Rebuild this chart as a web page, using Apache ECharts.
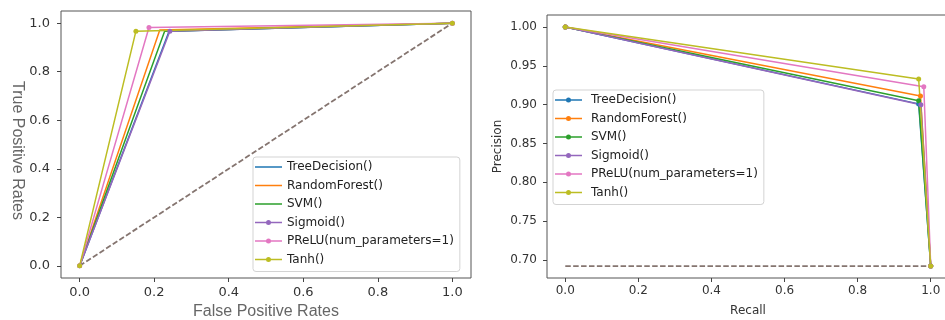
<!DOCTYPE html>
<html>
<head>
<meta charset="utf-8">
<script src="https://cdn.jsdelivr.net/npm/echarts@6/dist/echarts.min.js"></script>
<style>html,body{margin:0;padding:0;background:#fff}#c{width:945px;height:320px}</style>
</head>
<body>
<div id="c"></div>
<script>
const models = ['TreeDecision()', 'RandomForest()', 'SVM()', 'Sigmoid()', 'PReLU(num_parameters=1)', 'Tanh()'];
const colors = ['#1f77b4', '#ff7f0e', '#2ca02c', '#9467bd', '#e377c2', '#bcbd22'];
const rocMarkers = [false, false, false, true, true, true];
// ROC operating point (false positive rate, true positive rate)
const rocFpr = [0.240, 0.215, 0.228, 0.242, 0.186, 0.151];
const rocTpr = [0.967, 0.972, 0.967, 0.967, 0.982, 0.967];
// PR operating point (recall, precision)
const prRecall = [0.967, 0.972, 0.967, 0.973, 0.981, 0.967];
const prPrecision = [0.901, 0.911, 0.905, 0.900, 0.923, 0.933];
const baseline = 0.6923;
const rocTicks = [0.0, 0.2, 0.4, 0.6, 0.8, 1.0];
const recallTicks = [0.0, 0.2, 0.4, 0.6, 0.8, 1.0];
const precisionTicks = [0.70, 0.75, 0.80, 0.85, 0.90, 0.95, 1.00];

const ICON_LINE = 'path://M0,0h0.01v0.01h-0.01zM0,6.25h27v1.5h-27zM26.99,13.99h0.01v0.01h-0.01z';
const ICON_DOT = 'path://M0,0h0.01v0.01h-0.01zM0,6.25h27v1.5h-27zM26.99,13.99h0.01v0.01h-0.01zM16,7a2.5,2.5 0 1,1 -5,0a2.5,2.5 0 1,1 5,0z';

const tickFont = 'DejaVu Sans';
function axisCommon(fontSize, ticks, digits, margin) {
  return {
    axisLine: { show: false, onZero: false },
    axisTick: { show: true, length: 4, lineStyle: { color: '#444', width: 1 }, customValues: ticks },
    axisLabel: { show: true, fontFamily: tickFont, fontSize: fontSize, color: '#333', margin: margin,
      customValues: ticks, formatter: v => Number(v).toFixed(digits) },
    splitLine: { show: false }
  };
}

const series = [];
models.forEach((m, i) => {
  series.push({
    name: m, type: 'line', xAxisIndex: 0, yAxisIndex: 0,
    data: [[0, 0], [rocFpr[i], rocTpr[i]], [1, 1]],
    symbol: rocMarkers[i] ? 'circle' : 'none', symbolSize: 5,
    lineStyle: { color: colors[i], width: 1.5 }, itemStyle: { color: colors[i] },
    emphasis: { disabled: true }
  });
});
series.push({
  name: 'roc-chance', type: 'line', xAxisIndex: 0, yAxisIndex: 0,
  data: [[0, 0], [1, 1]], symbol: 'none', z: 1,
  lineStyle: { color: '#857570', width: 1.8, type: [5.5, 2.4] }, emphasis: { disabled: true }
});
models.forEach((m, i) => {
  series.push({
    name: m, type: 'line', xAxisIndex: 1, yAxisIndex: 1,
    data: [[0, 1], [prRecall[i], prPrecision[i]], [1, baseline]],
    symbol: 'circle', symbolSize: 5,
    lineStyle: { color: colors[i], width: 1.5 }, itemStyle: { color: colors[i] },
    emphasis: { disabled: true }
  });
});
series.push({
  name: 'pr-chance', type: 'line', xAxisIndex: 1, yAxisIndex: 1,
  data: [[0, baseline], [1, baseline]], symbol: 'none', z: 1,
  lineStyle: { color: '#857570', width: 1.8, type: [5.5, 2.4] }, emphasis: { disabled: true }
});

const legendBase = {
  orient: 'vertical', itemWidth: 27, itemHeight: 14, itemGap: 4.5,
  padding: [3, 6, 5, 2], borderColor: '#d3d3d3', borderWidth: 1, borderRadius: 3,
  backgroundColor: 'rgba(255,255,255,0.85)', selectedMode: false,
  itemStyle: { borderWidth: 0 },
  textStyle: { fontFamily: 'DejaVu Sans', fontSize: 12, color: '#222' }
};

const chart = echarts.init(document.getElementById('c'), null, { renderer: 'canvas' });
chart.setOption({
  animation: false,
  backgroundColor: '#fff',
  grid: [
    { left: 61, top: 11, width: 410, height: 267, show: true, borderColor: '#555', borderWidth: 1,
      backgroundColor: 'transparent', containLabel: false, outerBoundsMode: 'none' },
    { left: 547, top: 15, width: 402, height: 263, show: true, borderColor: '#555', borderWidth: 1,
      backgroundColor: 'transparent', containLabel: false, outerBoundsMode: 'none' }
  ],
  xAxis: [
    Object.assign({ type: 'value', gridIndex: 0, min: -0.05, max: 1.05,
      name: 'False Positive Rates', nameLocation: 'middle', nameGap: 20,
      nameTextStyle: { fontFamily: 'Liberation Sans', fontSize: 16, color: '#666' } }, axisCommon(13, rocTicks, 1, 8)),
    Object.assign({ type: 'value', gridIndex: 1, min: -0.05, max: 1.05,
      name: 'Recall', nameLocation: 'middle', nameGap: 27,
      nameTextStyle: { fontFamily: 'DejaVu Sans', fontSize: 12, color: '#333' } }, axisCommon(12, recallTicks, 1, 7))
  ],
  yAxis: [
    Object.assign({ type: 'value', gridIndex: 0, min: -0.05, max: 1.05,
      name: 'True Positive Rates', nameLocation: 'middle', nameGap: 31, nameRotate: -90,
      nameTextStyle: { fontFamily: 'Liberation Sans', fontSize: 16, color: '#666', padding: [0, 0, 0, 12] } }, axisCommon(13, rocTicks, 1, 11)),
    Object.assign({ type: 'value', gridIndex: 1, min: baseline - 0.05 * (1 - baseline), max: 1 + 0.05 * (1 - baseline),
      name: 'Precision', nameLocation: 'middle', nameGap: 43,
      nameTextStyle: { fontFamily: 'DejaVu Sans', fontSize: 12, color: '#333' } }, axisCommon(12, precisionTicks, 2, 10))
  ],
  legend: [
    Object.assign({}, legendBase, { left: 253, top: 157,
      data: models.map((m, i) => ({ name: m, icon: rocMarkers[i] ? ICON_DOT : ICON_LINE })) }),
    Object.assign({}, legendBase, { left: 553, top: 90,
      textStyle: { fontFamily: 'DejaVu Sans', fontSize: 12, color: '#222', padding: [0, 0, 0, 4] },
      data: models.map(m => ({ name: m, icon: ICON_DOT })) })
  ],
  series: series
});
</script>
</body>
</html>
